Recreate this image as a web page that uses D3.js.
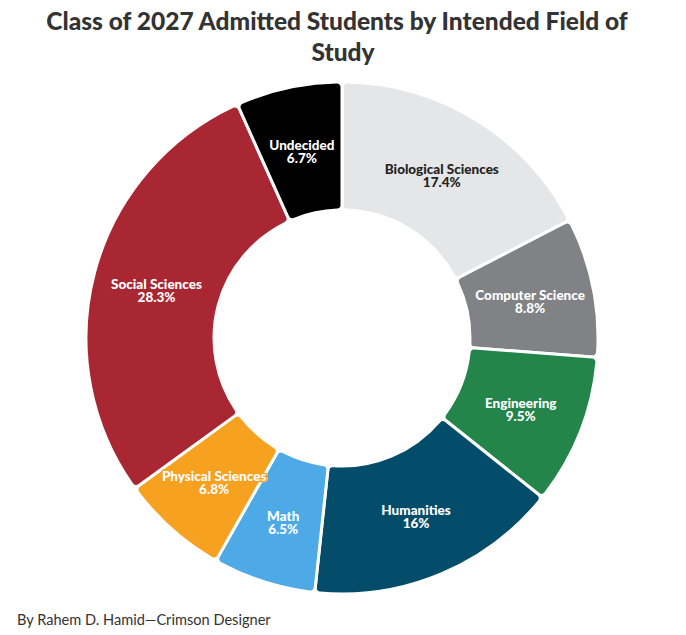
<!DOCTYPE html>
<html>
<head>
<meta charset="utf-8">
<script src="https://cdn.jsdelivr.net/npm/d3@7"></script>
<style>
  body { margin: 0; background: #fff; font-family: Lato, "Noto Sans", sans-serif; }
</style>
</head>
<body>
<div id="chart"></div>
<script>
const fields = ["Biological Sciences", "Computer Science", "Engineering", "Humanities",
                "Math", "Physical Sciences", "Social Sciences", "Undecided"];
const shares = [17.4, 8.8, 9.5, 16, 6.5, 6.8, 28.3, 6.7];
const fills = ["#e5e6e8", "#818285", "#23854a", "#034c6a",
               "#4eaae6", "#f7a120", "#a92732", "#000000"];
const labelColors = ["#222222", "#ffffff", "#ffffff", "#ffffff",
                     "#ffffff", "#ffffff", "#ffffff", "#ffffff"];

const width = 686;
const height = 635;
const cx = 342, cy = 338;
const outerR = 256, innerR = 128;

const svg = d3.select("#chart").append("svg")
    .attr("width", width)
    .attr("height", height);

// title, wrapped onto two lines
const title = svg.append("text")
    .attr("x", 337)
    .attr("y", 30)
    .attr("text-anchor", "middle")
    .attr("font-size", "24.5px")
    .attr("font-weight", "900")
    .attr("fill", "#333");
title.append("tspan").attr("x", 337).text("Class of 2027 Admitted Students by Intended Field of");
title.append("tspan").attr("x", 343).attr("dy", 31).text("Study");

const data = fields.map((f, i) => ({ field: f, value: shares[i], fill: fills[i], label: labelColors[i] }));

const pie = d3.pie().value(d => d.value).sort(null);
const arc = d3.arc().innerRadius(innerR).outerRadius(outerR).cornerRadius(5);

const g = svg.append("g").attr("transform", `translate(${cx},${cy})`);

const arcs = pie(data);

g.selectAll("path")
    .data(arcs)
    .enter().append("path")
    .attr("d", arc)
    .attr("fill", d => d.data.fill)
    .attr("stroke", "#fff")
    .attr("stroke-width", 3);

const labels = g.selectAll(".slice-label")
    .data(arcs)
    .enter().append("text")
    .attr("class", "slice-label")
    .attr("transform", d => `translate(${arc.centroid(d)})`)
    .attr("text-anchor", "middle")
    .attr("font-size", "13.5px")
    .attr("font-weight", "900")
    .attr("fill", d => d.data.label)
    .attr("stroke", d => d.data.fill)
    .attr("stroke-width", 3)
    .attr("paint-order", "stroke")
    .attr("stroke-linejoin", "round");

labels.append("tspan")
    .attr("x", 0)
    .attr("dy", 0)
    .text(d => d.data.field);
labels.append("tspan")
    .attr("x", 0)
    .attr("dy", 13)
    .text(d => d.data.value + "%");

svg.append("text")
    .attr("x", 17)
    .attr("y", 625)
    .attr("font-size", "14.6px")
    .attr("fill", "#333")
    .text("By Rahem D. Hamid\u2014Crimson Designer");
</script>
</body>
</html>
